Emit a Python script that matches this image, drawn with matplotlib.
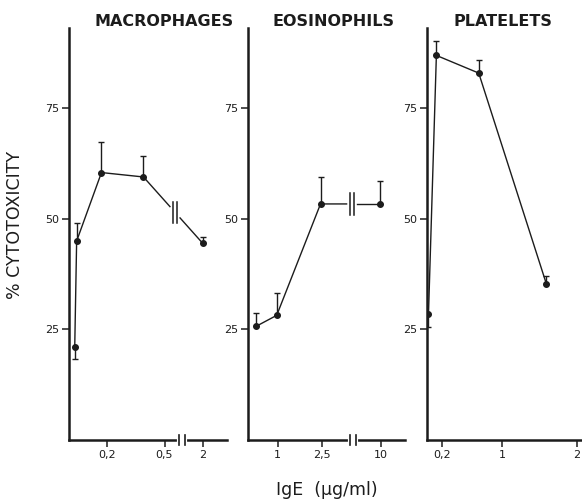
import numpy as np
import matplotlib
matplotlib.use('Agg')
import matplotlib.pyplot as plt

# IgE-dependent cytotoxicity, three cell types
# x values are positions on each panel's (broken) concentration axis

# macrophages
mac_x = [0.03, 0.04, 0.17, 0.39, 0.70]
mac_y = [21.0, 45.0, 60.5, 59.5, 44.5]
mac_err_lo = [2.7, 0, 0, 0, 0]
mac_err_hi = [0, 4.2, 7.0, 4.8, 1.4]
mac_ticks = [0.2, 0.5, 0.70]
mac_ticklabels = ['0,2', '0,5', '2']
mac_break = 0.555

# eosinophils
eos_x = [0.27, 0.97, 2.45, 4.45]
eos_y = [25.7, 28.2, 53.4, 53.4]
eos_err_lo = [0, 0, 0, 0]
eos_err_hi = [3.0, 5.0, 6.0, 5.3]
eos_ticks = [1, 2.5, 4.5]
eos_ticklabels = ['1', '2,5', '10']
eos_break = 3.5

# platelets
pla_x = [0.02, 0.125, 0.69, 1.59]
pla_y = [28.6, 87.0, 83.0, 35.4]
pla_err_lo = [3.0, 0, 0, 0]
pla_err_hi = [0, 3.2, 3.0, 1.8]
pla_ticks = [0.2, 1, 2]
pla_ticklabels = ['0,2', '1', '2']

y_ticks = [25, 50, 75]

ink = '#1c1c1c'
W, H = 582, 504
fig = plt.figure(figsize=(W / 100, H / 100), dpi=100)
fig.patch.set_facecolor('white')


def make_panel(left_px, right_px, xmax, title, title_x):
    ax = fig.add_axes([left_px / W, 1 - 440 / H, (right_px - left_px) / W, 412 / H])
    ax.set_xlim(0, xmax)
    ax.set_ylim(0, 93.2)
    for s in ['top', 'right']:
        ax.spines[s].set_visible(False)
    for s in ['left', 'bottom']:
        ax.spines[s].set_linewidth(1.8)
        ax.spines[s].set_color(ink)
    ax.set_yticks(y_ticks)
    ax.tick_params(axis='both', direction='out', length=5, width=1.1,
                   color=ink, labelcolor=ink, labelsize=8, pad=2)
    fig.text(title_x / W, 1 - 21 / H, title, ha='center', va='center',
             fontsize=11.5, fontweight='semibold', color=ink)
    return ax


def draw_series(ax, x, y, lo, hi, brk=None):
    x = np.asarray(x, float)
    y = np.asarray(y, float)
    if brk is None:
        ax.plot(x, y, color=ink, lw=1.0)
    else:
        # broken line with a "||" mark where the axis is interrupted
        i = np.searchsorted(x, brk)
        g = 0.032 * (ax.get_xlim()[1])
        x1, x2 = brk - g, brk + g
        y1, y2 = np.interp([x1, x2], x, y)
        ax.plot(list(x[:i]) + [x1], list(y[:i]) + [y1], color=ink, lw=1.0)
        ax.plot([x2] + list(x[i:]), [y2] + list(y[i:]), color=ink, lw=1.0)
        yb = np.interp(brk, x, y)
        d = 0.013 * ax.get_xlim()[1]
        for xm in (brk - d, brk + d):
            ax.plot([xm, xm], [yb - 2.4, yb + 2.4], color=ink, lw=1.1)
    ax.plot(x, y, 'o', color=ink, ms=4, zorder=3)
    lo = np.asarray(lo, float)
    hi = np.asarray(hi, float)
    up = hi > 0
    dn = lo > 0
    if up.any():
        ax.errorbar(x[up], y[up], yerr=[np.zeros(up.sum()), hi[up]], fmt='none',
                    ecolor=ink, elinewidth=1.0, capsize=2.5, capthick=1.0)
    if dn.any():
        ax.errorbar(x[dn], y[dn], yerr=[lo[dn], np.zeros(dn.sum())], fmt='none',
                    ecolor=ink, elinewidth=1.0, capsize=2.5, capthick=1.0)


def axis_break(ax, xb):
    # white gap in the x axis with two small vertical bars
    tr = ax.get_xaxis_transform()
    g = 0.02 * ax.get_xlim()[1]
    ax.plot([xb - g, xb + g], [0, 0], color='white', lw=3, transform=tr,
            clip_on=False, zorder=4)
    for xm in (xb - g, xb + g):
        ax.plot([xm, xm], [-0.011, 0.011], color=ink, lw=1.2, transform=tr,
                clip_on=False, zorder=5)


ax1 = make_panel(69, 227, (227 - 69) / 191, 'MACROPHAGES', 164)
ax1.set_xticks(mac_ticks)
ax1.set_xticklabels(mac_ticklabels)
draw_series(ax1, mac_x, mac_y, mac_err_lo, mac_err_hi, brk=mac_break)
axis_break(ax1, 0.59)

ax2 = make_panel(248, 405, (405 - 248) / 29.6, 'EOSINOPHILS', 333)
ax2.set_xticks(eos_ticks)
ax2.set_xticklabels(eos_ticklabels)
draw_series(ax2, eos_x, eos_y, eos_err_lo, eos_err_hi, brk=eos_break)
axis_break(ax2, 3.55)

ax3 = make_panel(427, 582, (582 - 427) / 75, 'PLATELETS', 503)
ax3.set_xticks(pla_ticks)
ax3.set_xticklabels(pla_ticklabels)
draw_series(ax3, pla_x, pla_y, pla_err_lo, pla_err_hi)

fig.text(15 / W, 1 - 225 / H, '% CYTOTOXICITY', rotation=90, ha='center',
         va='center', fontsize=12.5, color=ink)
fig.text(327 / W, 1 - 490 / H, 'IgE  (µg/ml)', ha='center', va='center',
         fontsize=12.5, color=ink)

fig.savefig('out.png', dpi=100, facecolor='white')
